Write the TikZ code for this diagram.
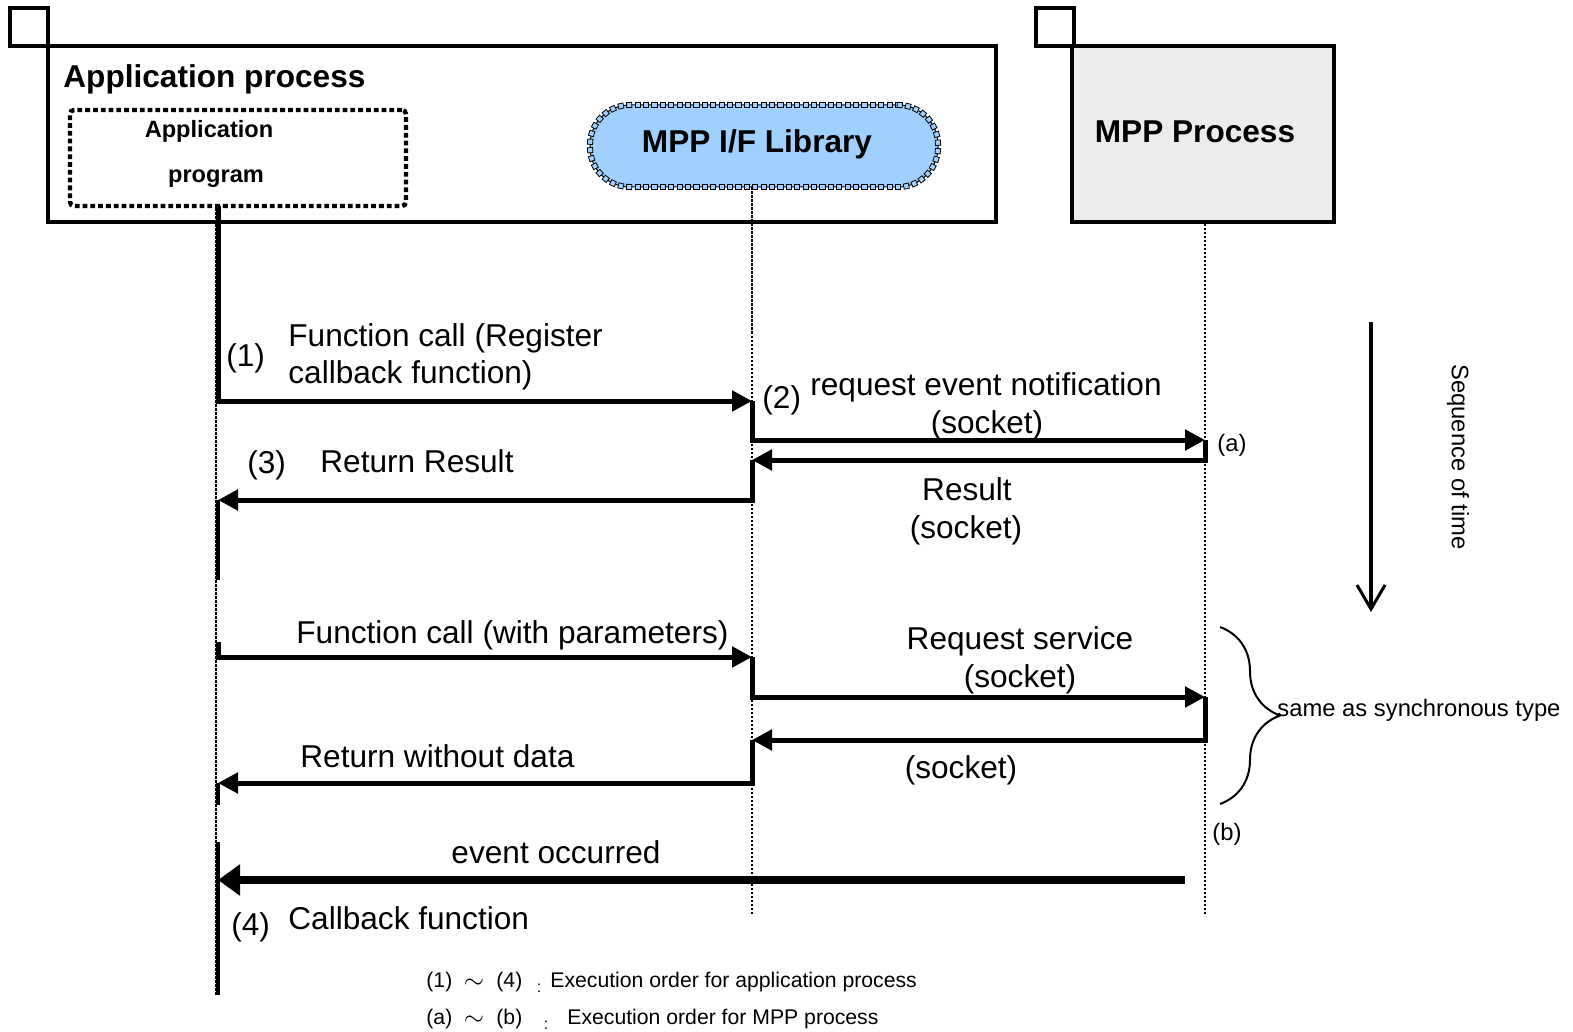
\documentclass[tikz,border=0pt]{standalone}
\usepackage{fontspec}
\setmainfont{Liberation Sans}
\usetikzlibrary{arrows.meta,decorations.pathreplacing,decorations.markings}
\definecolor{libblue}{RGB}{160,208,255}
\definecolor{mppgray}{RGB}{236,236,236}
\newcommand{\hdfont}{\fontsize{15.8}{18}\selectfont\bfseries}
\newcommand{\lbfont}{\fontsize{15.8}{18}\selectfont}
\newcommand{\smfont}{\fontsize{11.9}{14}\selectfont}
\begin{document}
\begin{tikzpicture}[x=0.5pt,y=-0.5pt,
  tab/.style={draw,line width=1.6pt,minimum width=19pt,minimum height=19pt,inner sep=0pt},
  procbox/.style={draw,line width=1.6pt,minimum height=88pt,inner sep=0pt},
  lifeline/.style={line width=1.4pt,dash pattern=on 1.2pt off 0.8pt},
  msg/.style={line width=2.5pt,-{Triangle[length=10pt,width=10pt]}},
  bar/.style={line width=1.6pt},
  lbl/.style={inner sep=0pt,font=\lbfont}]
\useasboundingbox (0,0) rectangle (1573,1032);

% boxes
\node[tab] (apptab) at (29,27) {};
\node[procbox,minimum width=474pt] (appproc) at (522,134) {};
\node[tab] (mpptab) at (1055,27) {};
\node[procbox,minimum width=131pt,fill=mppgray] (mppproc) at (1203,134) {};
\node[draw,line width=2.2pt,dash pattern=on 2.4pt off 1.5pt,rounded corners=2pt,
  minimum width=168pt,minimum height=48pt] (prog) at (238,158) {};
\node[draw,line width=0.5pt,fill=libblue,rounded corners=20pt,
  minimum width=174pt,minimum height=41pt,
  postaction={decorate,decoration={markings,
    mark=between positions 0 and 1 step 4.2pt with
    {\draw[sharp corners,line width=0.4pt,fill=libblue] (-1.3pt,-1.3pt) rectangle (1.3pt,1.3pt);}}}] (lib) at (764,146) {};

\node[anchor=base west,inner sep=0pt,font=\hdfont] (appname) at (63,88) {Application process};
\node[anchor=base,inner sep=0pt,font=\fontsize{11.8}{14}\selectfont\bfseries] (prog1) at (209,138) {Application};
\node[anchor=base,inner sep=0pt,font=\fontsize{11.8}{14}\selectfont\bfseries] (prog2) at (216,183) {program};
\node[anchor=base,inner sep=0pt,font=\hdfont] (libname) at (757,153) {MPP I/F Library};
\node[anchor=base,inner sep=0pt,font=\hdfont] (mppname) at (1195,143) {MPP Process};

% lifelines
\coordinate (appEnd) at (216,995);
\coordinate (libEnd) at (752,915);
\coordinate (mppEnd) at (1205,915);
\draw[lifeline] (prog.south -| appEnd) -- (appEnd);
\draw[lifeline] (lib.south -| libEnd) -- (libEnd);
\draw[lifeline] (mppproc.south -| mppEnd) -- (mppEnd);

% message points
\coordinate (a0) at (218,206);
\coordinate (l1) at (752,401);
\coordinate (m1) at (1205,440);
\coordinate (l2) at (752,460);
\coordinate (a1) at (218,500);
\coordinate (a2) at (218,580);
\coordinate (a3) at (218,642);
\coordinate (l3) at (752,657);
\coordinate (m2) at (1205,697);
\coordinate (l4) at (752,740);
\coordinate (a4) at (218,783);
\coordinate (a5) at (218,805);
\coordinate (m3) at (1185,880);
\coordinate (a6) at (218,880);
\coordinate (a7) at (218,842);
\coordinate (a8) at (218,995);

\draw[msg] (a0) |- (l1);
\draw[msg] (l1) |- (m1);
\draw[msg] (m1) |- (l2);
\draw[msg] (l2) |- (a1);
\draw[bar] (a1) -- (a2);
\draw[msg] (a3) |- (l3);
\draw[msg] (l3) |- (m2);
\draw[msg] (m2) |- (l4);
\draw[msg] (l4) |- (a4);
\draw[bar] (a4) -- (a5);
\draw[line width=4pt,-{Triangle[length=11pt,width=15pt]}] (m3) -- (a6);
\draw[bar] (a7) -- (a8);

% labels
\node[lbl,anchor=base west] (n1) at (226,366) {(1)};
\node[lbl,anchor=base west] (t1a) at (288,346) {Function call (Register};
\node[lbl,anchor=base west] (t1b) at (288,383) {callback function)};
\node[lbl,anchor=base west] (n2) at (762,408) {(2)};
\node[lbl,anchor=base] (t2a) at (986,395) {request event notification};
\node[lbl,anchor=base] (t2b) at (987,433) {(socket)};
\node[anchor=base west,inner sep=0pt,font=\smfont] (na) at (1217,451) {(a)};
\node[lbl,anchor=base west] (n3) at (247,473) {(3)};
\node[lbl,anchor=base west] (t3) at (320,472) {Return Result};
\node[lbl,anchor=base] (t4a) at (967,500) {Result};
\node[lbl,anchor=base] (t4b) at (966,538) {(socket)};
\node[lbl,anchor=base west] (t5) at (296,643) {Function call (with parameters)};
\node[lbl,anchor=base] (t6a) at (1020,649) {Request service};
\node[lbl,anchor=base] (t6b) at (1020,687) {(socket)};
\node[lbl,anchor=base west] (t7) at (300,767) {Return without data};
\node[lbl,anchor=base] (t8) at (961,778) {(socket)};
\node[anchor=base west,inner sep=0pt,font=\smfont] (nb) at (1212,840) {(b)};
\node[lbl,anchor=base] (t9) at (556,863) {event occurred};
\node[lbl,anchor=base west] (n4) at (231,935) {(4)};
\node[lbl,anchor=base west] (t10) at (288,929) {Callback function};

% brace
\draw[line width=1pt,decorate,decoration={brace,amplitude=30pt}] (1220,627) -- (1220,804);
\node[anchor=base west,inner sep=0pt,font=\smfont] (same) at (1277,716) {same as synchronous type};

% time arrow
\coordinate (tStart) at (1371,322);
\coordinate (tEnd) at (1371,612);
\draw[line width=2pt,-{Straight Barb[length=12pt,width=14pt,line width=1.5pt]}] (tStart) -- (tEnd);
\node[rotate=-90,inner sep=0pt,font=\smfont] (seq) at (1458,457) {Sequence of time};

% footnote
\node[anchor=base west,inner sep=0pt,font=\fontsize{10.6}{12}\selectfont] (f1a) at (426,987) {(1)};
\node[inner sep=0pt,scale=1.3] (f1b) at (474,984) {$\sim$};
\node[anchor=base west,inner sep=0pt,font=\fontsize{10.6}{12}\selectfont] (f1c) at (496,987) {(4)};
\node[anchor=base,inner sep=0pt,font=\fontsize{8}{10}\selectfont] (f1d) at (539,992) {:};
\node[anchor=base west,inner sep=0pt,font=\fontsize{10.6}{12}\selectfont] (f1e) at (550,987) {Execution order for application process};
\node[anchor=base west,inner sep=0pt,font=\fontsize{10.6}{12}\selectfont] (f2a) at (426,1024) {(a)};
\node[inner sep=0pt,scale=1.3] (f2b) at (474,1021) {$\sim$};
\node[anchor=base west,inner sep=0pt,font=\fontsize{10.6}{12}\selectfont] (f2c) at (496,1024) {(b)};
\node[anchor=base,inner sep=0pt,font=\fontsize{8}{10}\selectfont] (f2d) at (546,1029) {:};
\node[anchor=base west,inner sep=0pt,font=\fontsize{10.6}{12}\selectfont] (f2e) at (567,1024) {Execution order for MPP process};
\end{tikzpicture}
\end{document}
